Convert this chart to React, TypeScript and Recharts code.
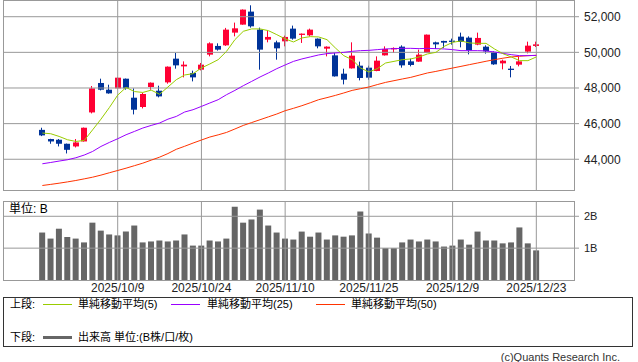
import React from "react";
import { ComposedChart, Bar, Line, XAxis, YAxis, ReferenceLine } from "recharts";

// trading days shown in the chart
const dates = [
  "2025/9/26", "2025/9/29", "2025/9/30", "2025/10/1", "2025/10/2", "2025/10/3", "2025/10/6", "2025/10/7", "2025/10/8", "2025/10/9",
  "2025/10/10", "2025/10/14", "2025/10/15", "2025/10/16", "2025/10/17", "2025/10/20", "2025/10/21", "2025/10/22", "2025/10/23", "2025/10/24",
  "2025/10/27", "2025/10/28", "2025/10/29", "2025/10/30", "2025/10/31", "2025/11/4", "2025/11/5", "2025/11/6", "2025/11/7", "2025/11/10",
  "2025/11/11", "2025/11/12", "2025/11/13", "2025/11/14", "2025/11/17", "2025/11/18", "2025/11/19", "2025/11/20", "2025/11/21", "2025/11/25",
  "2025/11/26", "2025/11/27", "2025/11/28", "2025/12/1", "2025/12/2", "2025/12/3", "2025/12/4", "2025/12/5", "2025/12/8", "2025/12/9",
  "2025/12/10", "2025/12/11", "2025/12/12", "2025/12/15", "2025/12/16", "2025/12/17", "2025/12/18", "2025/12/19", "2025/12/22", "2025/12/23",
];

const tickDates = ["2025/10/9", "2025/10/24", "2025/11/10", "2025/11/25", "2025/12/9", "2025/12/23"];

const opens = [
  45650, 45135, 45096, 44870, 44720, 45000, 46629, 48281, 47904, 47978,
  48522, 47455, 46933, 48056, 47848, 48315, 49646, 49213, 48843, 49028,
  49871, 50360, 50393, 51107, 51556, 52287, 51275, 50713, 50562, 50618,
  51331, 50978, 50955, 50770, 50208, 49831, 48803, 49101, 49253, 49140,
  48955, 49831, 50169, 50320, 49494, 49478, 49966, 50562, 50640, 50657,
  50882, 50826, 50433, 50320, 50022, 49382, 49084, 49309, 50039, 50360,
];
const highs = [
  45770, 45150, 45135, 44880, 45135, 45780, 48112, 48522, 48185, 48600,
  48530, 47978, 47719, 48310, 48129, 49210, 49966, 49494, 48972, 49404,
  50562, 50506, 51371, 51669, 52410, 52640, 51388, 51236, 50657, 50938,
  51500, 51060, 51331, 50780, 50337, 49966, 49084, 50562, 49478, 49253,
  49775, 50337, 50280, 50393, 49646, 50152, 51000, 50601, 50650, 50770,
  51107, 50899, 51107, 50393, 50060, 49590, 49236, 49742, 50601, 50601,
];
const lows = [
  45300, 44870, 44720, 44326, 44663, 44990, 46573, 47865, 47680, 47970,
  47904, 46517, 46854, 47904, 47472, 48242, 49084, 48596, 48371, 48989,
  49775, 50096, 50360, 50899, 51550, 51388, 49028, 50562, 49590, 50337,
  50713, 50528, 50900, 50225, 49775, 48640, 48202, 49090, 48427, 48466,
  48940, 49820, 49966, 49140, 49213, 49470, 49960, 50191, 50247, 50433,
  50281, 49888, 50400, 49927, 49300, 49045, 48596, 49213, 49944, 50300,
];
const closes = [
  45340, 45000, 44870, 44530, 44944, 45770, 47978, 47904, 47697, 48579,
  47978, 46781, 47663, 48298, 47528, 49197, 49270, 49309, 48596, 49309,
  50506, 50152, 51275, 51348, 52399, 51461, 50152, 50865, 50225, 50865,
  50770, 51050, 51275, 50337, 50320, 48652, 48466, 49815, 48562, 48579,
  49534, 50191, 50247, 49270, 49292, 49871, 50994, 50449, 50545, 50584,
  50584, 50112, 50809, 50056, 49326, 49534, 49011, 49494, 50376, 50449,
];

const ma5 = [
  45472, 45433, 45281, 45096, 45000, 45056, 45650, 46250, 46900, 47600,
  48030, 47800, 47750, 47880, 47650, 48056, 48466, 48730, 48803, 49124,
  49348, 49590, 50056, 50713, 51180, 51315, 51315, 51219, 50994, 50753,
  50584, 50809, 50882, 50865, 50713, 50247, 49815, 49590, 49124, 48899,
  49084, 49404, 49494, 49590, 49630, 49742, 49910, 50000, 50337, 50562,
  50640, 50528, 50506, 50506, 50191, 49927, 49742, 49534, 49534, 49742,
];
const ma25 = [
  43747, 43820, 43899, 43972, 44084, 44236, 44438, 44719, 44944, 45152,
  45376, 45562, 45753, 45899, 46034, 46250, 46404, 46652, 46781, 46966,
  47157, 47343, 47624, 47865, 48129, 48371, 48618, 48843, 49084, 49292,
  49494, 49630, 49742, 49854, 49927, 49966, 50000, 50056, 50096, 50112,
  50152, 50191, 50208, 50225, 50225, 50208, 50225, 50208, 50191, 50152,
  50096, 50096, 50096, 50079, 50022, 49944, 49871, 49815, 49815, 49831,
];
const ma50 = [
  42528, 42590, 42657, 42730, 42809, 42900, 42994, 43110, 43242, 43370,
  43500, 43640, 43781, 43950, 44118, 44320, 44560, 44730, 44910, 45080,
  45247, 45370, 45506, 45700, 45899, 46060, 46219, 46380, 46539, 46725,
  46860, 47006, 47170, 47343, 47460, 47584, 47720, 47865, 47960, 48056,
  48190, 48315, 48410, 48506, 48596, 48720, 48843, 48930, 49028, 49120,
  49213, 49310, 49404, 49500, 49590, 49670, 49742, 49780, 49815, 49831,
];

// volume in billions of shares
const volume = [
  1.49, 1.30, 1.61, 1.35, 1.30, 1.18, 1.80, 1.55, 1.43, 1.40,
  1.52, 1.71, 1.18, 1.21, 1.24, 1.21, 1.24, 1.43, 1.08, 1.08,
  1.24, 1.21, 1.30, 2.30, 1.80, 1.90, 2.21, 1.71, 1.49, 1.30,
  1.27, 1.52, 1.36, 1.49, 1.27, 1.40, 1.36, 1.40, 2.15, 1.46,
  1.33, 1.00, 1.00, 1.18, 1.27, 1.21, 1.27, 1.21, 1.05, 1.08,
  1.27, 1.11, 1.52, 1.24, 1.24, 1.15, 1.18, 1.65, 1.15, 0.93,
];

const priceTicks = [44000, 46000, 48000, 50000, 52000];
const volumeTicks = [1, 2];

const RED = "#ff0033";
const BLUE = "#003399";
const GRID = "#999999";
const FONT = "'Liberation Sans', Arial, 'Noto Sans CJK JP', sans-serif";

const data = dates.map((d, i) => ({
  i,
  date: d,
  open: opens[i],
  high: highs[i],
  low: lows[i],
  close: closes[i],
  range: [lows[i], highs[i]],
  ma5: ma5[i],
  ma25: ma25[i],
  ma50: ma50[i],
  vol: volume[i],
}));

const tickIdx = tickDates.map((t) => dates.indexOf(t));
const xDomain = [-4.7, 63.5];

function Candle(props: any) {
  const { x, y, width, height, payload } = props;
  if (x == null || y == null) return null;
  const { open, high, low, close } = payload;
  const color = close >= open ? RED : BLUE;
  const py = (v: number) => y + ((high - v) / (high - low)) * height;
  const bx = Math.round(x + width / 2 - 3);
  const top = py(Math.max(open, close));
  const bot = py(Math.min(open, close));
  return (
    <g>
      <line x1={bx + 2.5} x2={bx + 2.5} y1={y} y2={y + height} stroke={color} strokeWidth={1} />
      <rect x={bx} y={top} width={6} height={Math.max(1, bot - top)} fill={color} />
    </g>
  );
}

function PanelBorder({ top, height }: { top: number; height: number }) {
  return (
    <div
      style={{
        position: "absolute",
        left: 3,
        top,
        width: 572,
        height,
        border: `1px solid ${GRID}`,
        boxSizing: "border-box",
        pointerEvents: "none",
      }}
    />
  );
}

function LegendLine({ left, top, color, w = 1 }: { left: number; top: number; color: string; w?: number }) {
  return <div style={{ position: "absolute", left, top: top - w / 2, width: 29, height: w, background: color }} />;
}

export default function App() {
  const txt: React.CSSProperties = { position: "absolute", fontSize: 11, color: "#000", whiteSpace: "nowrap", lineHeight: "12px" };
  return (
    <div style={{ position: "absolute", left: 0, top: 0, width: 638, height: 362, background: "#fff", fontFamily: FONT }}>
      {/* price panel */}
      <div style={{ position: "absolute", left: 0, top: 0 }}>
        <ComposedChart width={638} height={191} data={data} margin={{ top: 0, right: 0, bottom: 1, left: 3 }}>
          <XAxis dataKey="i" type="number" domain={xDomain} allowDataOverflow hide />
          <YAxis
            orientation="right"
            width={64}
            domain={[42275, 52938]}
            allowDataOverflow
            ticks={priceTicks}
            tickFormatter={(v: number) => v.toLocaleString("en-US")}
            axisLine={false}
            tickSize={5}
            tickMargin={5}
            tickLine={{ stroke: GRID }}
            tick={{ fontSize: 12, fill: "#222", fontFamily: FONT }}
          />
          {priceTicks.map((t) => (
            <ReferenceLine key={"py" + t} y={t} stroke={GRID} strokeWidth={1} />
          ))}
          {tickIdx.map((t) => (
            <ReferenceLine key={"px" + t} x={t} stroke={GRID} strokeWidth={1} />
          ))}
          <Line dataKey="ma50" stroke="#ff3300" strokeWidth={1} dot={false} isAnimationActive={false} />
          <Line dataKey="ma25" stroke="#9900ff" strokeWidth={1} dot={false} isAnimationActive={false} />
          <Bar dataKey="range" barSize={6} shape={Candle} isAnimationActive={false} />
          <Line dataKey="ma5" stroke="#99cc00" strokeWidth={1} dot={false} isAnimationActive={false} />
        </ComposedChart>
      </div>
      <PanelBorder top={0} height={191} />

      {/* volume panel */}
      <div style={{ position: "absolute", left: 0, top: 201 }}>
        <ComposedChart width={638} height={96} data={data} margin={{ top: 0, right: 0, bottom: 0, left: 3 }}>
          <XAxis
            dataKey="i"
            type="number"
            domain={xDomain}
            allowDataOverflow
            ticks={tickIdx}
            interval={0}
            tickFormatter={(v: number) => dates[v]}
            axisLine={false}
            tickLine={false}
            tickSize={0}
            tickMargin={3}
            height={17}
            tick={{ fontSize: 12, fill: "#222", fontFamily: FONT }}
          />
          <YAxis
            orientation="right"
            width={64}
            domain={[0, 2.48]}
            allowDataOverflow
            ticks={volumeTicks}
            tickFormatter={(v: number) => v + "B"}
            axisLine={false}
            tickSize={5}
            tickMargin={5}
            tickLine={{ stroke: GRID }}
            tick={{ fontSize: 11, fill: "#222", fontFamily: FONT }}
          />
          {volumeTicks.map((t) => (
            <ReferenceLine key={"vy" + t} y={t} stroke={GRID} strokeWidth={1} />
          ))}
          {tickIdx.map((t) => (
            <ReferenceLine key={"vx" + t} x={t} stroke={GRID} strokeWidth={1} />
          ))}
          <Bar dataKey="vol" barSize={6} fill="#666666" isAnimationActive={false} />
        </ComposedChart>
      </div>
      <PanelBorder top={201} height={80} />
      <div style={{ ...txt, left: 9, top: 203, fontSize: 12, lineHeight: "13px" }}>単位: B</div>

      {/* legend box */}
      <div
        style={{
          position: "absolute",
          left: 3,
          top: 297,
          width: 630,
          height: 50,
          border: "1px solid #333",
          boxSizing: "border-box",
        }}
      />
      <div style={{ ...txt, left: 10, top: 298 }}>上段:</div>
      <LegendLine left={43} top={304} color="#99cc00" />
      <div style={{ ...txt, left: 78, top: 298 }}>単純移動平均(5)</div>
      <LegendLine left={171} top={304} color="#9900ff" />
      <div style={{ ...txt, left: 207, top: 298 }}>単純移動平均(25)</div>
      <LegendLine left={316} top={304} color="#ff3300" />
      <div style={{ ...txt, left: 351, top: 298 }}>単純移動平均(50)</div>
      <div style={{ ...txt, left: 10, top: 331 }}>下段:</div>
      <LegendLine left={43} top={337} color="#666666" w={3} />
      <div style={{ ...txt, left: 78, top: 331 }}>出来高 単位:(B株/口/枚)</div>

      <div style={{ ...txt, right: 18, top: 351, color: "#333" }}>(c)Quants Research Inc.</div>
    </div>
  );
}
